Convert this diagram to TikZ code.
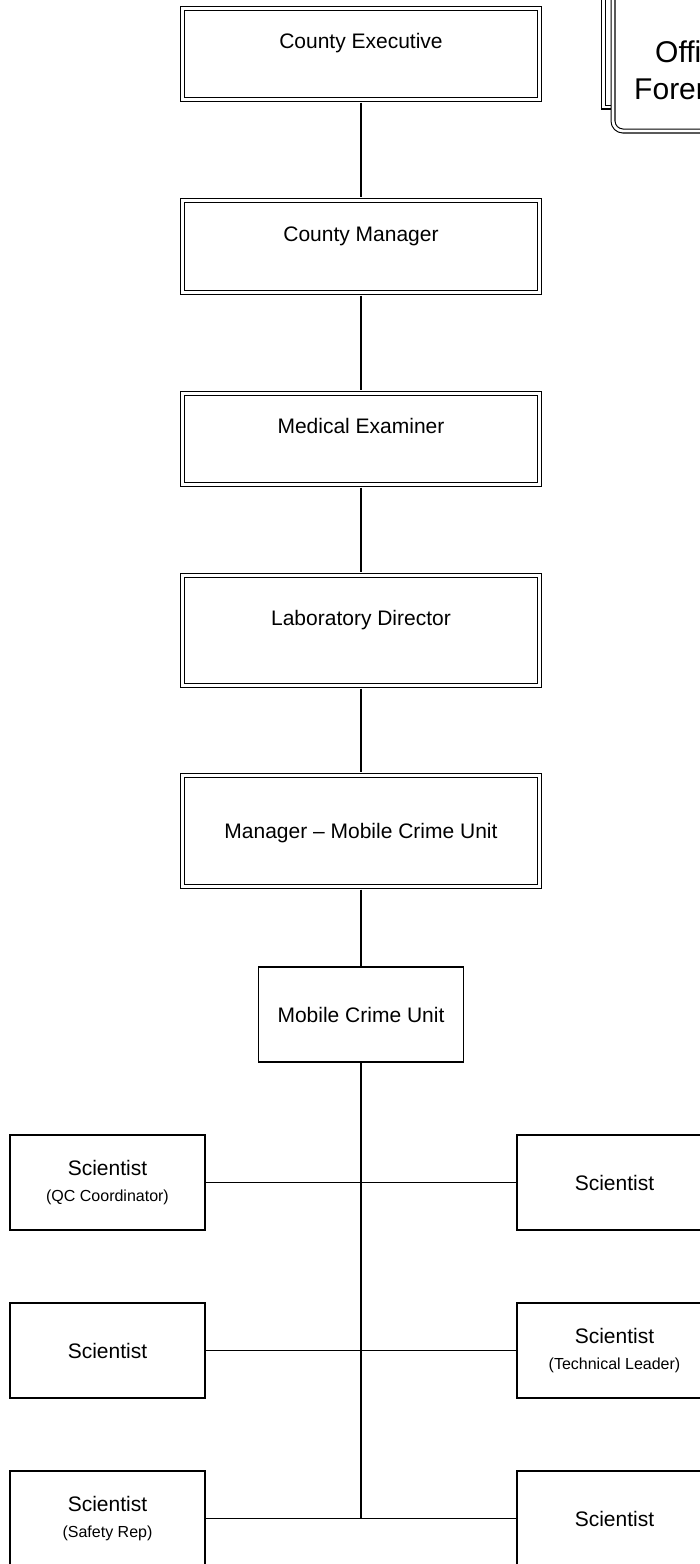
\documentclass[tikz,border=0pt]{standalone}
\usepackage{fontspec}
\setmainfont{Liberation Sans}
\newcommand{\rolenote}[1]{{\fontsize{16}{19}\selectfont #1}}
\tikzset{
	office/.style = {draw, double, double distance = 2.8pt, line width = 1.1pt, fill = white,
		minimum width = 357pt, inner sep = 0pt, outer sep = 3pt,
		font = \fontsize{21}{25}\selectfont, text height = 15pt, text depth = 26pt},
	centred/.style = {text depth = 0pt},
	unit/.style = {draw, line width = 1.6pt, fill = white, minimum width = 205pt, minimum height = 95pt,
		inner sep = 0pt, font = \fontsize{21}{25}\selectfont, text height = 15pt, text depth = 0pt},
	scientist/.style = {draw, line width = 1.6pt, fill = white, minimum width = 195pt, minimum height = 95pt,
		inner sep = 0pt, align = center, font = \fontsize{21}{25}\selectfont},
	frame/.style = {double, double distance = 2.8pt, line width = 1.1pt, fill = white}
}

\begin{document}
\begin{tikzpicture}[x = 1pt, y = -1pt, line width = 1.8pt]
	
	\useasboundingbox (0, 0) rectangle (699, 1564);
	
	% the office box at the top right, mostly off the page
	\draw[frame] (603.5, -20) rectangle (780, 107);
	\draw[frame, rounded corners = 10pt] (613, -20) rectangle (780, 131);
	\node[anchor = base west, font = \fontsize{30}{37}\selectfont] (offtop) at (651, 62) {Office};
	\node[anchor = base west, font = \fontsize{30}{37}\selectfont] (offbot) at (630, 99) {Forensic};
	
	\node[office, minimum height = 91.2pt] (exec) at (361, 54) {County Executive};
	\node[office, minimum height = 92.2pt] (mgr) at (361, 246.5) {County Manager};
	\node[office, minimum height = 91.2pt] (me) at (361, 439) {Medical Examiner};
	\node[office, minimum height = 110.2pt] (dir) at (361, 630.5) {Laboratory Director};
	\node[office, centred, minimum height = 111.2pt] (mcum) at (361, 831) {Manager -- Mobile Crime Unit};
	\node[unit] (mcu) at (361, 1014.5) {Mobile Crime Unit};
	
	\node[scientist] (sl1) at (107.5, 1182.5) {Scientist\\[1pt]\rolenote{(QC Coordinator)}};
	\node[scientist] (sr1) at (614.5, 1182.5) {Scientist};
	\node[scientist] (sl2) at (107.5, 1350.5) {Scientist};
	\node[scientist] (sr2) at (614.5, 1350.5) {Scientist\\[1pt]\rolenote{(Technical Leader)}};
	\node[scientist] (sl3) at (107.5, 1518.5) {Scientist\\[1pt]\rolenote{(Safety Rep)}};
	\node[scientist] (sr3) at (614.5, 1518.5) {Scientist};
	
	\coordinate (base) at (361, 1518.5);
	
	\path (exec) edge (mgr);
	\path (mgr) edge (me);
	\path (me) edge (dir);
	\path (dir) edge (mcum);
	\path (mcum) edge (mcu);
	\path (mcu) edge (base);
	
	\path (sl1) edge (sr1);
	\path (sl2) edge (sr2);
	\path (sl3) edge (sr3);
	
\end{tikzpicture}
\end{document}
